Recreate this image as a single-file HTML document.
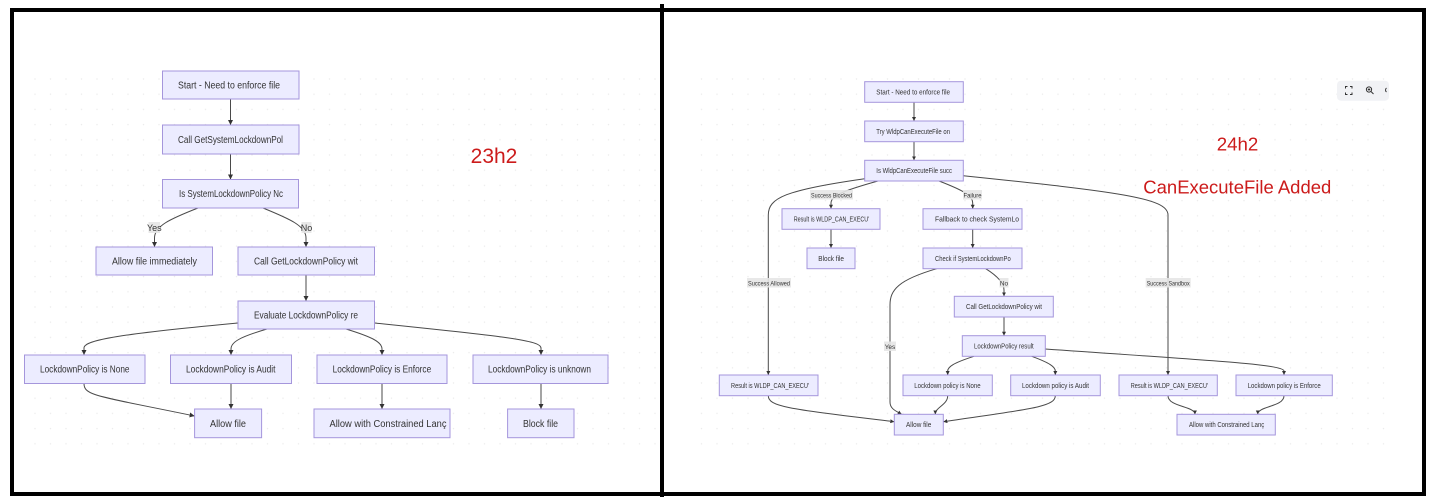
<!DOCTYPE html>
<html>
<head>
<meta charset="utf-8">
<style>
html,body{margin:0;padding:0;background:#fff;width:1440px;height:504px;overflow:hidden;}
svg{display:block;}
.n{fill:#ececff;stroke:#a596dc;stroke-width:1;}
.t{font-family:"Liberation Sans","DejaVu Sans",sans-serif;fill:#333;}
.e{fill:none;stroke:#4a4a4a;stroke-width:1;}
.lb{fill:#e6e6e6;opacity:.9}
</style>
</head>
<body>
<svg width="1440" height="504" viewBox="0 0 1440 504" xmlns="http://www.w3.org/2000/svg">
<defs>
<pattern id="dots" x="0" y="0" width="15.5" height="15.2" patternUnits="userSpaceOnUse">
<circle cx="4" cy="3" r="0.75" fill="#ececec"/>
</pattern>
<marker id="a" viewBox="0 0 10 10" refX="10" refY="5" markerWidth="5" markerHeight="5" markerUnits="userSpaceOnUse" orient="auto">
<path d="M0,0 L10,5 L0,10 z" fill="#333"/>
</marker>
<marker id="b" viewBox="0 0 10 10" refX="10" refY="5" markerWidth="4" markerHeight="4" markerUnits="userSpaceOnUse" orient="auto">
<path d="M0,0 L10,5 L0,10 z" fill="#333"/>
</marker>
</defs>

<rect x="0" y="0" width="1440" height="504" fill="#fff"/>
<rect x="22" y="72" width="634" height="386" fill="url(#dots)"/>
<rect x="690" y="66" width="700" height="380" fill="url(#dots)"/>

<!-- frame -->
<rect x="12" y="10" width="1412" height="484" fill="none" stroke="#000" stroke-width="4"/>
<line x1="662" y1="4" x2="662" y2="497" stroke="#000" stroke-width="4"/>

<!-- ============ LEFT PANEL ============ -->
<g class="e" marker-end="url(#a)">
<path d="M230.5,99 L230.5,125"/>
<path d="M230.5,154 L230.5,179.5"/>
<path d="M198,208 C170,219 154.5,226 154.5,238 L154.5,247"/>
<path d="M263,208 C290,219 306,226 306,238 L306,247"/>
<path d="M306,275 L306,301"/>
<path d="M238,323 C120,334 84,340 84,348 L84,355"/>
<path d="M267,329 C240,337 231,342 231,349 L231,355"/>
<path d="M346,329 C372,337 382,342 382,349 L382,355"/>
<path d="M374.5,323 C500,336 541,340 541,348 L541,355"/>
<path d="M84,383.5 C84,396 98,396 194.6,416"/>
<path d="M231,383.5 L231,409"/>
<path d="M382,383.5 L382,409"/>
<path d="M541,383.5 L541,409"/>
</g>

<rect class="lb" x="148.5" y="222" width="11.5" height="11"/>
<text class="t" x="154.3" y="231" font-size="9" text-anchor="middle">Yes</text>
<rect class="lb" x="301.5" y="222" width="10" height="11"/>
<text class="t" x="306.5" y="231" font-size="9" text-anchor="middle">No</text>

<g>
<rect class="n" x="162.5" y="71" width="136.5" height="28"/>
<text class="t" x="178" y="88.5" font-size="10" textLength="102" lengthAdjust="spacingAndGlyphs">Start - Need to enforce file</text>
<rect class="n" x="162.5" y="125" width="136.5" height="29"/>
<text class="t" x="178" y="143" font-size="10" textLength="105" lengthAdjust="spacingAndGlyphs">Call GetSystemLockdownPol</text>
<rect class="n" x="162.5" y="179.5" width="136" height="28.5"/>
<text class="t" x="179" y="197.2" font-size="10" textLength="104" lengthAdjust="spacingAndGlyphs">Is SystemLockdownPolicy Nc</text>
<rect class="n" x="96" y="247" width="116.5" height="28"/>
<text class="t" x="112" y="264.5" font-size="10" textLength="85" lengthAdjust="spacingAndGlyphs">Allow file immediately</text>
<rect class="n" x="238" y="247" width="136.5" height="28"/>
<text class="t" x="254" y="264.5" font-size="10" textLength="104" lengthAdjust="spacingAndGlyphs">Call GetLockdownPolicy wit</text>
<rect class="n" x="238" y="301" width="136.5" height="28"/>
<text class="t" x="254" y="318.5" font-size="10" textLength="104" lengthAdjust="spacingAndGlyphs">Evaluate LockdownPolicy re</text>
<rect class="n" x="24.5" y="355" width="120.5" height="28.5"/>
<text class="t" x="40" y="372.7" font-size="10" textLength="89.5" lengthAdjust="spacingAndGlyphs">LockdownPolicy is None</text>
<rect class="n" x="170.5" y="355" width="121" height="28.5"/>
<text class="t" x="186" y="372.7" font-size="10" textLength="89.5" lengthAdjust="spacingAndGlyphs">LockdownPolicy is Audit</text>
<rect class="n" x="317" y="355" width="130" height="28.5"/>
<text class="t" x="332.6" y="372.7" font-size="10" textLength="98.6" lengthAdjust="spacingAndGlyphs">LockdownPolicy is Enforce</text>
<rect class="n" x="473" y="355" width="135" height="28.5"/>
<text class="t" x="488" y="372.7" font-size="10" textLength="103" lengthAdjust="spacingAndGlyphs">LockdownPolicy is unknown</text>
<rect class="n" x="194.6" y="409" width="67" height="28.7"/>
<text class="t" x="210" y="426.8" font-size="10" textLength="36" lengthAdjust="spacingAndGlyphs">Allow file</text>
<rect class="n" x="314" y="409" width="136" height="28.7"/>
<text class="t" x="329.5" y="426.8" font-size="10" textLength="117" lengthAdjust="spacingAndGlyphs">Allow with Constrained Lanç</text>
<rect class="n" x="507.6" y="409" width="66.4" height="28.7"/>
<text class="t" x="523" y="426.8" font-size="10" textLength="35" lengthAdjust="spacingAndGlyphs">Block file</text>
</g>

<text x="494" y="163" font-family="Liberation Sans, Arial, sans-serif" font-size="21" fill="#cc1b1b" text-anchor="middle">23h2</text>

<!-- ============ RIGHT PANEL ============ -->
<g class="e" marker-end="url(#b)">
<path d="M914,102.3 L914,121"/>
<path d="M914,141.7 L914,160.3"/>
<path d="M878,181 C842,191 831,196 831,203 L831,208.7"/>
<path d="M939,181 C965,191 972.7,196 972.7,203 L972.7,208.7"/>
<path d="M864.7,178.7 C785,190 768.3,198 768.3,215 L768.3,375"/>
<path d="M963.3,175.7 C1120,192 1168,198 1168,215 L1168,375"/>
<path d="M831,229.3 L831,248"/>
<path d="M972.7,229.3 L972.7,248"/>
<path d="M936.7,268.7 C898,280 890,290 890,305 L890,402 C890,409 896,411 901.7,414.3"/>
<path d="M985.7,268.7 C999,277 1004,284 1004,290 L1004,296.3"/>
<path d="M1004,317 L1004,335.7"/>
<path d="M974,356.3 C953,363 947.7,367 947.7,371 L947.7,375"/>
<path d="M1031.7,356.3 C1050,363 1055.3,367 1055.3,371 L1055.3,375"/>
<path d="M1045.3,349 C1200,360 1284,364 1284,371 L1284,375"/>
<path d="M768.3,395.7 C768.3,407 790,409 894.3,421.7"/>
<path d="M947.7,395.7 C947.7,405 935.3,407 935.3,414.3"/>
<path d="M1055.3,395.7 C1055.3,407 1030,409 943.3,421.7"/>
<path d="M1168,395.7 C1168,407 1195,406 1195,414.3"/>
<path d="M1284,395.7 C1284,407 1257.7,406 1257.7,414.3"/>
</g>

<g font-size="6.5">
<rect class="lb" x="810" y="190" width="43" height="9.5"/>
<text class="t" x="831.5" y="197.3" font-size="6.5" text-anchor="middle" textLength="41" lengthAdjust="spacingAndGlyphs">Success Blocked</text>
<rect class="lb" x="963" y="190" width="19" height="9.5"/>
<text class="t" x="972.5" y="197.3" font-size="6.5" text-anchor="middle" textLength="18" lengthAdjust="spacingAndGlyphs">Failure</text>
<rect class="lb" x="747" y="278" width="44" height="9.5"/>
<text class="t" x="769" y="285.3" font-size="6.5" text-anchor="middle" textLength="42" lengthAdjust="spacingAndGlyphs">Success Allowed</text>
<rect class="lb" x="1145.7" y="278" width="45" height="9.5"/>
<text class="t" x="1168.2" y="285.3" font-size="6.5" text-anchor="middle" textLength="43" lengthAdjust="spacingAndGlyphs">Success Sandbox</text>
<rect class="lb" x="884" y="341.5" width="12" height="9.5"/>
<text class="t" x="890" y="348.8" font-size="6.5" text-anchor="middle">Yes</text>
<rect class="lb" x="999.5" y="278" width="9" height="9.5"/>
<text class="t" x="1004" y="285.3" font-size="6.5" text-anchor="middle">No</text>
</g>

<g>
<rect class="n" x="864.7" y="81.7" width="98.6" height="20.6"/>
<text class="t" x="876.3" y="94.5" font-size="7" textLength="73.7" lengthAdjust="spacingAndGlyphs">Start - Need to enforce file</text>
<rect class="n" x="864.7" y="121" width="98.6" height="20.7"/>
<text class="t" x="876.3" y="133.8" font-size="7" textLength="73.7" lengthAdjust="spacingAndGlyphs">Try WldpCanExecuteFile on</text>
<rect class="n" x="864.7" y="160.3" width="98.6" height="20.7"/>
<text class="t" x="876.3" y="173.1" font-size="7" textLength="75.7" lengthAdjust="spacingAndGlyphs">Is WldpCanExecuteFile succ</text>
<rect class="n" x="782" y="208.7" width="98" height="20.6"/>
<text class="t" x="793.7" y="221.5" font-size="7" textLength="75.6" lengthAdjust="spacingAndGlyphs">Result is WLDP_CAN_EXECU'</text>
<rect class="n" x="923" y="208.7" width="99" height="20.6"/>
<text class="t" x="935" y="221.5" font-size="7" textLength="84" lengthAdjust="spacingAndGlyphs">Fallback to check SystemLo</text>
<rect class="n" x="807" y="248" width="48" height="20.7"/>
<text class="t" x="818.3" y="260.8" font-size="7" textLength="25.7" lengthAdjust="spacingAndGlyphs">Block file</text>
<rect class="n" x="923" y="248" width="99" height="20.7"/>
<text class="t" x="935" y="260.8" font-size="7" textLength="75.7" lengthAdjust="spacingAndGlyphs">Check if SystemLockdownPo</text>
<rect class="n" x="954.3" y="296.3" width="99" height="20.7"/>
<text class="t" x="966" y="309.1" font-size="7" textLength="76" lengthAdjust="spacingAndGlyphs">Call GetLockdownPolicy wit</text>
<rect class="n" x="962.3" y="335.7" width="83" height="20.6"/>
<text class="t" x="974" y="348.5" font-size="7" textLength="59.7" lengthAdjust="spacingAndGlyphs">LockdownPolicy result</text>
<rect class="n" x="719.3" y="375" width="98.7" height="20.7"/>
<text class="t" x="731" y="387.8" font-size="7" textLength="78" lengthAdjust="spacingAndGlyphs">Result is WLDP_CAN_EXECU'</text>
<rect class="n" x="903" y="375" width="89.3" height="20.7"/>
<text class="t" x="914.3" y="387.8" font-size="7" textLength="66.3" lengthAdjust="spacingAndGlyphs">Lockdown policy is None</text>
<rect class="n" x="1010.7" y="375" width="89.6" height="20.7"/>
<text class="t" x="1022" y="387.8" font-size="7" textLength="67" lengthAdjust="spacingAndGlyphs">Lockdown policy is Audit</text>
<rect class="n" x="1119" y="375" width="98.3" height="20.7"/>
<text class="t" x="1130.7" y="387.8" font-size="7" textLength="77.3" lengthAdjust="spacingAndGlyphs">Result is WLDP_CAN_EXECU'</text>
<rect class="n" x="1236" y="375" width="96.3" height="20.7"/>
<text class="t" x="1247.7" y="387.8" font-size="7" textLength="73" lengthAdjust="spacingAndGlyphs">Lockdown policy is Enforce</text>
<rect class="n" x="894.3" y="414.3" width="49" height="20.7"/>
<text class="t" x="906" y="427.1" font-size="7" textLength="25.3" lengthAdjust="spacingAndGlyphs">Allow file</text>
<rect class="n" x="1177" y="414.3" width="98.3" height="20.7"/>
<text class="t" x="1189" y="427.1" font-size="7" textLength="75.3" lengthAdjust="spacingAndGlyphs">Allow with Constrained Lanç</text>
</g>

<text x="1237.5" y="150.7" font-family="Liberation Sans, Arial, sans-serif" font-size="18.7" fill="#cc1b1b" text-anchor="middle">24h2</text>
<text x="1143.3" y="193.3" font-family="Liberation Sans, Arial, sans-serif" font-size="18.4" fill="#cc1b1b" textLength="188" lengthAdjust="spacingAndGlyphs">CanExecuteFile Added</text>

<!-- toolbar -->
<rect x="1337" y="80.7" width="52" height="20" rx="4" fill="#f1f2f5"/>
<g stroke="#333" stroke-width="1" fill="none">
<path d="M1345.5,88.5 v-2 h2 M1350,86.5 h2 v2 M1352,92.5 v2 h-2 M1347.5,94.5 h-2 v-2"/>
<circle cx="1369" cy="89.5" r="2.6"/>
<path d="M1371,91.5 L1373.5,94"/>
<path d="M1367.8,89.5 h2.4 M1369,88.3 v2.4"/>
<path d="M1386.5,88 a2.5,2.5 0 0 0 0,4"/>
</g>
</svg>
</body>
</html>
